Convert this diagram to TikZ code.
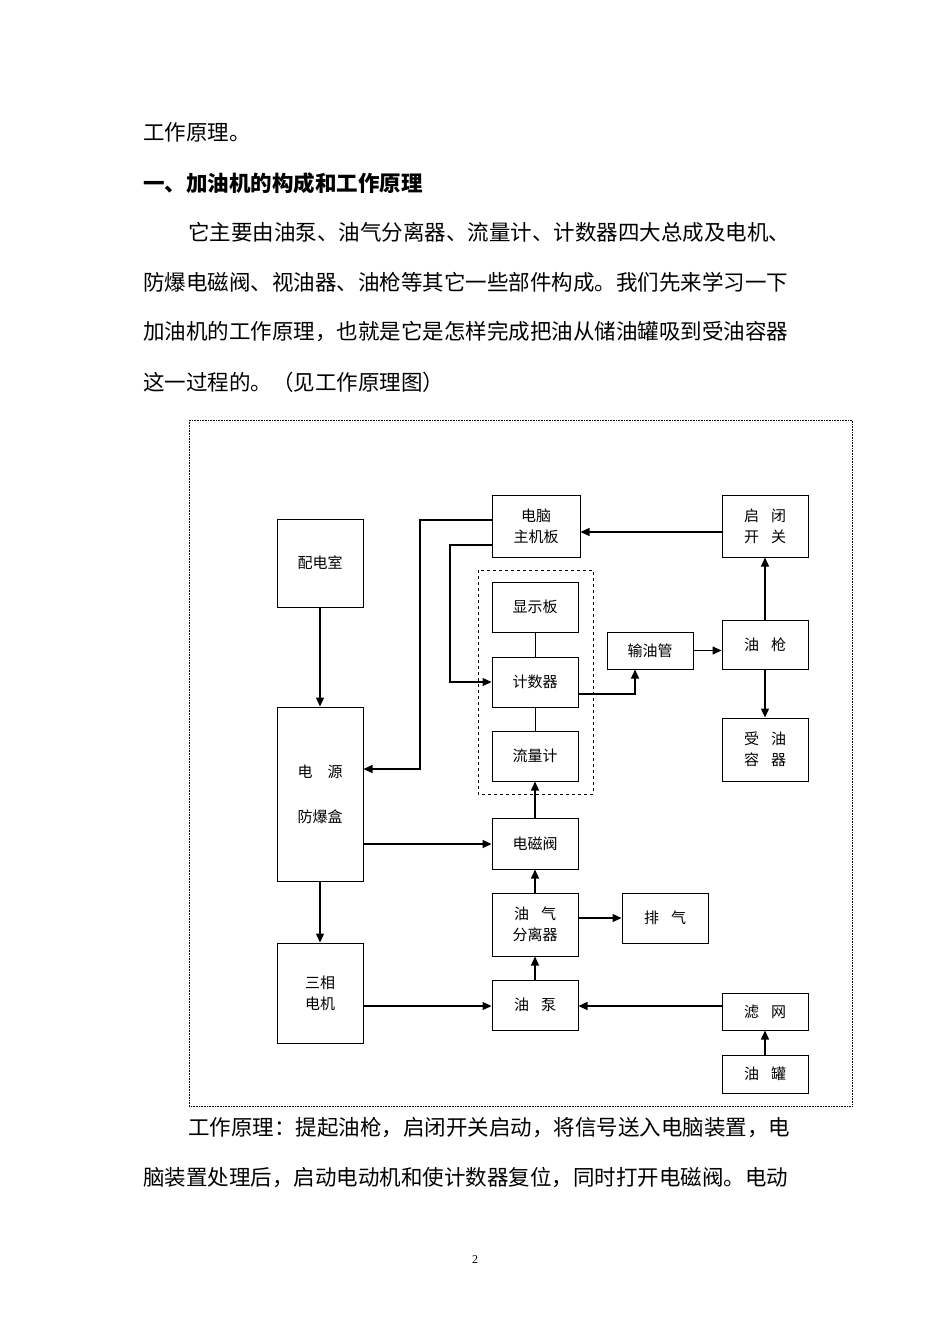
\documentclass[tikz,border=0pt]{standalone}
\usepackage{fontspec}
\setmainfont{Liberation Serif}
\newfontfamily\cjk{Noto Sans CJK SC}
\usetikzlibrary{arrows.meta}
\tikzset{
  bx/.style={draw, line width=1pt, inner sep=0pt, font=\cjk\fontsize{15}{21}\selectfont, align=center},
  ar/.style={line width=1.3pt, -{Triangle[length=9pt,width=8pt]}},
  ln/.style={line width=1pt},
  txt/.style={anchor=west, inner sep=0pt, font=\cjk\fontsize{21.5}{26}\selectfont}
}
\begin{document}
\begin{tikzpicture}[x=1pt,y=-1pt]
\useasboundingbox[fill=white] (0,0) rectangle (950,1344);
% body text
\node[txt] (t1) at (143,132) {工作原理。};
\node[txt,font=\cjk\bfseries\fontsize{21.5}{26}\selectfont] (t2) at (143,183) {一、加油机的构成和工作原理};
\node[txt] (t3) at (188,232) {它主要由油泵、油气分离器、流量计、计数器四大总成及电机、};
\node[txt] (t4) at (143,282) {防爆电磁阀、视油器、油枪等其它一些部件构成。我们先来学习一下};
\node[txt] (t5) at (143,332) {加油机的工作原理，也就是它是怎样完成把油从储油罐吸到受油容器};
\node[txt] (t6) at (143,382) {这一过程的。（见工作原理图）};
\node[txt] (t7) at (188,1128) {工作原理：提起油枪，启闭开关启动，将信号送入电脑装置，电};
\node[txt] (t8) at (143,1178) {脑装置处理后，启动电动机和使计数器复位，同时打开电磁阀。电动};
\node[font=\fontsize{12}{14}\selectfont] (pg) at (475,1260) {2};
% frame
\draw[densely dotted, line width=0.6pt] (189,420) rectangle (852,1106);
\draw[dashed, line width=1pt] (478,570) rectangle (593,794);
% boxes
\newcommand{\bxat}[6]{\node[bx, minimum width=#4-#2, minimum height=#5-#3] (#1) at ({(#2+#4)/2},{(#3+#5)/2}) {#6};}
\bxat{pdz}{277}{519}{363}{607}{配电室}
\bxat{dy}{277}{707}{363}{881}{电\hspace{1em}源\\[1.6em]防爆盒}
\bxat{sx}{277}{943}{363}{1043}{三相\\电机}
\bxat{dn}{492}{495}{580}{557}{电脑\\主机板}
\bxat{xs}{492}{582}{578}{632}{显示板}
\bxat{js}{492}{657}{578}{707}{计数器}
\bxat{ll}{492}{731}{578}{781}{流量计}
\bxat{syg}{607}{632}{693}{669}{输油管}
\bxat{qb}{722}{495}{808}{557}{启\hspace{0.8em}闭\\开\hspace{0.8em}关}
\bxat{yq}{722}{620}{808}{669}{油\hspace{0.8em}枪}
\bxat{sy}{722}{718}{808}{781}{受\hspace{0.8em}油\\容\hspace{0.8em}器}
\bxat{dc}{492}{818}{578}{869}{电磁阀}
\bxat{yqf}{492}{893}{578}{956}{油\hspace{0.8em}气\\分离器}
\bxat{pq}{622}{893}{708}{943}{排\hspace{0.8em}气}
\bxat{yb}{492}{980}{578}{1030}{油\hspace{0.8em}泵}
\bxat{lw}{722}{993}{808}{1030}{滤\hspace{0.8em}网}
\bxat{yg}{722}{1055}{808}{1093}{油\hspace{0.8em}罐}
% connectors
\draw[ar] (pdz.south) -- (dy.north);
\draw[ar] (dy.south) -- (sx.north);
\draw[ar] (dn.west |- 0,520) -- (420,520) -- (420,769) -- (dy.east |- 0,769);
\draw[ar] (dn.west |- 0,545) -- (450,545) -- (450,682) -- (js.west);
\draw[ar] (qb.west |- 0,532) -- (dn.east |- 0,532);
\draw[ar] (yq.north) -- (qb.south);
\draw[ar] (yq.south) -- (sy.north);
\draw[ar] (syg.east) -- (yq.west |- syg.east);
\draw[ar] (js.east |- 0,694) -- (635,694) -- (syg.south -| 635,0);
\draw[ln] (xs.south) -- (js.north);
\draw[ln] (js.south) -- (ll.north);
\draw[ar] (dc.north) -- (ll.south);
\draw[ar] (dy.east |- 0,844) -- (dc.west |- 0,844);
\draw[ar] (sx.east |- 0,1006) -- (yb.west |- 0,1006);
\draw[ar] (yqf.north) -- (dc.south);
\draw[ar] (yb.north) -- (yqf.south);
\draw[ar] (yqf.east |- 0,918) -- (pq.west |- 0,918);
\draw[ar] (lw.west |- 0,1006) -- (yb.east |- 0,1006);
\draw[ar] (yg.north) -- (lw.south);
\end{tikzpicture}
\end{document}
